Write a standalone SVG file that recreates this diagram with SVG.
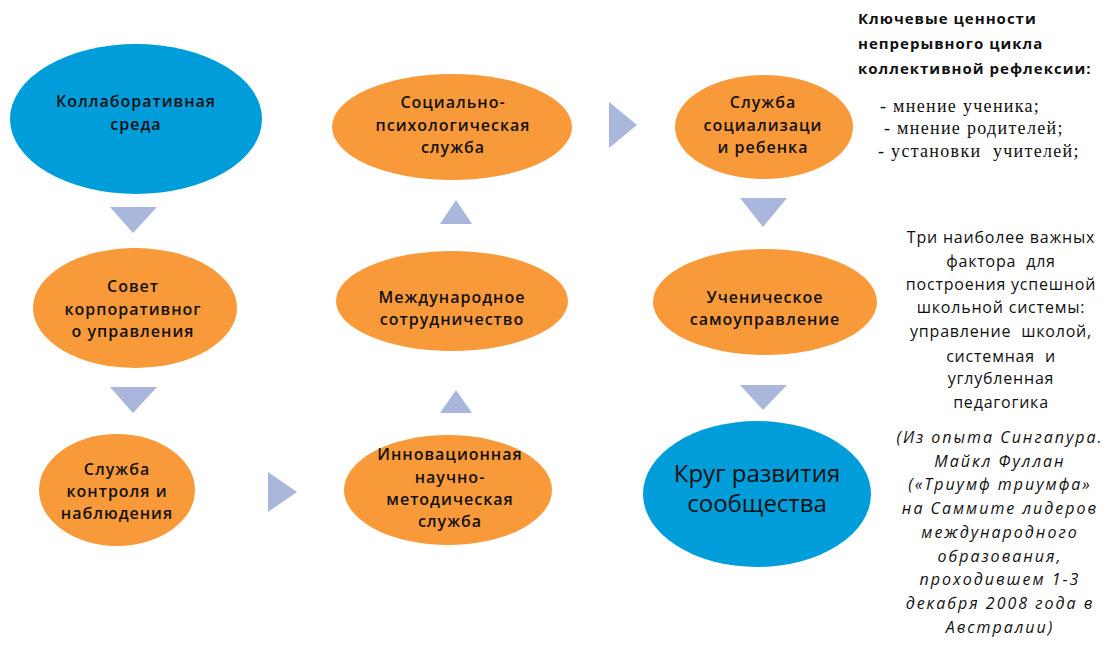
<svg xmlns="http://www.w3.org/2000/svg" width="1106" height="649" viewBox="0 0 1106 649">
<style>
.orange{fill:#F99A3A}
.blue{fill:#009DDB}
.arr{fill:#A9B7DD}
.nt{font-family:"Open Sans","Liberation Sans",sans-serif;font-size:16px;font-weight:600;letter-spacing:1px;fill:#111;text-anchor:middle}
.big{font-family:"Open Sans","Liberation Sans",sans-serif;font-size:24px;fill:#111;text-anchor:middle}
.hd{font-family:"Open Sans","Liberation Sans",sans-serif;font-size:15px;font-weight:700;letter-spacing:1px;fill:#111}
.ls{font-family:"Liberation Serif",serif;font-size:18px;letter-spacing:1.3px;fill:#111}
.rt{font-family:"Open Sans","Liberation Sans",sans-serif;font-size:16px;letter-spacing:0.8px;fill:#111;text-anchor:middle}
.it{font-style:italic;letter-spacing:2px}
</style>
<rect width="1106" height="649" fill="#fff"/>
<g id="connectors">
<polygon class="arr" points="110,207 157,207 133,233"/>
<polygon class="arr" points="110,387 157,387 133,413"/>
<polygon class="arr" points="268,472 297,492 268,512"/>
<polygon class="arr" points="440,413 472,413 456,390"/>
<polygon class="arr" points="440,224 472,224 456,200"/>
<polygon class="arr" points="609,102 637,125 609,148"/>
<polygon class="arr" points="740,198 787,198 763,227"/>
<polygon class="arr" points="740,385 787,385 763,410"/>
</g>
<g id="n-collab">
<ellipse class="blue" cx="136" cy="119" rx="126" ry="75"/>
<text class="nt" x="136" y="107">Коллаборативная</text>
<text class="nt" x="136" y="130">среда</text>
</g>
<g id="n-council">
<ellipse class="orange" cx="135" cy="308" rx="102" ry="60"/>
<text class="nt" x="133" y="292">Совет</text>
<text class="nt" x="133" y="315">корпоративног</text>
<text class="nt" x="133" y="337">о управления</text>
</g>
<g id="n-control">
<ellipse class="orange" cx="117" cy="490" rx="78" ry="56"/>
<text class="nt" x="117" y="475">Служба</text>
<text class="nt" x="117" y="497">контроля и</text>
<text class="nt" x="117" y="519">наблюдения</text>
</g>
<g id="n-innov">
<ellipse class="orange" cx="448" cy="490" rx="104" ry="55"/>
<text class="nt" x="450" y="460">Инновационная</text>
<text class="nt" x="450" y="483">научно-</text>
<text class="nt" x="450" y="505">методическая</text>
<text class="nt" x="450" y="527">служба</text>
</g>
<g id="n-intl">
<ellipse class="orange" cx="452" cy="301" rx="116" ry="50"/>
<text class="nt" x="452" y="303">Международное</text>
<text class="nt" x="452" y="325">сотрудничество</text>
</g>
<g id="n-socpsy">
<ellipse class="orange" cx="452" cy="127" rx="120" ry="53"/>
<text class="nt" x="453" y="108">Социально-</text>
<text class="nt" x="453" y="131">психологическая</text>
<text class="nt" x="453" y="153">служба</text>
</g>
<g id="n-child">
<ellipse class="orange" cx="764" cy="127" rx="89" ry="52"/>
<text class="nt" x="763" y="108">Служба</text>
<text class="nt" x="763" y="131">социализаци</text>
<text class="nt" x="763" y="153">и ребенка</text>
</g>
<g id="n-student">
<ellipse class="orange" cx="765" cy="302" rx="112" ry="53"/>
<text class="nt" x="765" y="303">Ученическое</text>
<text class="nt" x="765" y="325">самоуправление</text>
</g>
<g id="n-circle">
<ellipse class="blue" cx="757" cy="494" rx="114" ry="73"/>
<text class="big" x="757" y="482">Круг развития</text>
<text class="big" x="757" y="512">сообщества</text>
</g>
<g id="values">
<text class="hd" x="858" y="24">Ключевые ценности</text>
<text class="hd" x="858" y="49">непрерывного цикла</text>
<text class="hd" x="858" y="74">коллективной рефлексии:</text>
<text class="ls" x="880" y="112">- мнение ученика;</text>
<text class="ls" x="884" y="134">- мнение родителей;</text>
<text class="ls" x="878" y="157" xml:space="preserve">- установки  учителей;</text>
</g>
<g id="factors">
<text class="rt" x="1001" y="243">Три наиболее важных</text>
<text class="rt" x="1001" y="267" xml:space="preserve">фактора  для</text>
<text class="rt" x="1001" y="290">построения успешной</text>
<text class="rt" x="1001" y="313">школьной системы:</text>
<text class="rt" x="1001" y="337" xml:space="preserve">управление  школой,</text>
<text class="rt" x="1001" y="362" xml:space="preserve">системная  и</text>
<text class="rt" x="1001" y="384">углубленная</text>
<text class="rt" x="1001" y="408">педагогика</text>
<text class="rt it" x="1000" y="443">(Из опыта Сингапура.</text>
<text class="rt it" x="1000" y="467">Майкл Фуллан</text>
<text class="rt it" x="1000" y="490">(«Триумф триумфа»</text>
<text class="rt it" x="1000" y="514">на Саммите лидеров</text>
<text class="rt it" x="1000" y="538">международного</text>
<text class="rt it" x="1000" y="562">образования,</text>
<text class="rt it" x="1000" y="585">проходившем 1-3</text>
<text class="rt it" x="1000" y="609">декабря 2008 года в</text>
<text class="rt it" x="1000" y="633">Австралии)</text>
</g>
</svg>
